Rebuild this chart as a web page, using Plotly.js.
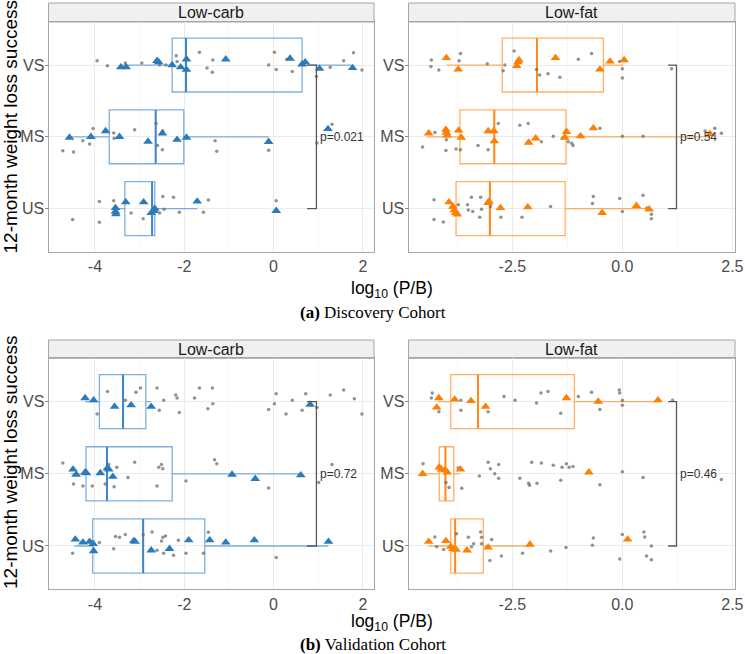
<!DOCTYPE html>
<html>
<head>
<meta charset="utf-8">
<script src="https://cdn.plot.ly/plotly-3.0.1.min.js"></script>
<style>html,body{margin:0;padding:0;background:#fff;}#chart{width:745px;height:654px;}</style>
</head>
<body>
<div id="chart"></div>
<script>
// ---------- categories / labels ----------
const catLabels = ['US', 'MS', 'VS'];
const catPos = [1, 2, 3];
const facetLabels = ['Low-carb', 'Low-fat'];
const cohortLabels = ['<b>(a)</b> Discovery Cohort', '<b>(b)</b> Validation Cohort'];
const xTitle = 'log<sub>10</sub> (P/B)';
const yTitle = '12-month weight loss success';
const carbTickVals = [-4, -2, 0, 2];
const carbTickText = ['-4', '-2', '0', '2'];
const fatTickVals = [-2.5, 0, 2.5];
const fatTickText = ['-2.5', '0.0', '2.5'];

// ---------- Discovery, Low-carb (box stats in order US, MS, VS) ----------
const dcLow = [-3.55, -4.59, -3.43];
const dcQ1 = [-3.33, -3.68, -2.27];
const dcMed = [-2.72, -2.64, -1.96];
const dcQ3 = [-2.66, -2.01, 0.64];
const dcHigh = [-1.71, -0.11, 1.75];
const dcTriVSx = [-3.42,-3.30,-2.61,-2.57,-2.27,-2.08,-1.95,-1.95,-1.07,0.37,0.64,0.71,1.03,1.77];
const dcTriVSd = [-0.03,-0.03,0.06,0.04,0,-0.03,0.08,-0.065,0.08,0.09,0.01,0.04,-0.05,-0.04];
const dcTriMSx = [-4.57,-4.09,-3.76,-3.45,-2.81,-2.49,-2.16,-1.95,-0.11,1.22];
const dcTriMSd = [-0.01,0,0.08,0,-0.065,0.05,-0.04,-0.01,-0.07,0.11];
const dcTriUSx = [-3.54,-3.54,-3.53,-3.31,-2.91,-2.74,-2.67,-2.66,-1.71,0.06];
const dcTriUSd = [0.01,-0.04,-0.075,0.09,0.09,-0.06,-0.03,0,0.10,-0.03];
const dcDotVSx = [-3.95,-3.72,-3.32,-2.95,-2.55,-2.41,-2.18,-2.16,-1.66,-1.49,-1.36,-1.37,-0.11,0.02,0.06,0.30,0.42,0.96,1.27,1.57,1.79,1.98];
const dcDotVSd = [0.06,-0.01,0.03,0.03,0,0,0.13,0.05,0.18,-0.04,0.07,-0.10,0,0.18,-0.06,0.08,-0.09,-0.16,-0.03,0.06,0.17,-0.07];
const dcDotMSx = [-4.72,-4.48,-4.27,-4.12,-4.04,-3.58,-3.57,-3.11,-2.63,-2.60,-2.49,-2.48,-1.31,-1.27,-0.11,1.31,0.97];
const dcDotMSd = [-0.195,-0.21,-0.055,-0.10,0.115,0.055,-0.02,0.10,0.185,-0.12,-0.18,0.08,-0.055,-0.20,-0.185,0.175,-0.085];
const dcDotUSx = [-4.50,-3.90,-3.90,-3.58,-3.19,-2.92,-2.92,-2.55,-2.48,-2.45,-2.24,-2.11,-1.57,-1.46,0.06];
const dcDotUSd = [-0.15,0.10,-0.19,0.11,-0.06,0.09,-0.14,-0.06,0.17,-0.01,0.16,-0.05,-0.05,0.12,0.11];
const dcBracket = [0.75, 0.96];
const dcP = 'p=0.021';

// ---------- Discovery, Low-fat ----------
const dfLow = [-3.94, -4.45, -4.00];
const dfQ1 = [-3.78, -3.69, -2.73];
const dfMed = [-3.01, -2.91, -1.94];
const dfQ3 = [-1.30, -1.28, -0.43];
const dfHigh = [0.63, 1.99, 0.02];
const dfTriVSx = [-4.00,-3.73,-2.40,-2.37,-2.35,-1.52,-0.51,-0.28,0.04];
const dfTriVSd = [0.10,-0.06,-0.01,0.04,0.07,0.10,-0.06,0.05,0.07];
const dfTriMSx = [-4.40,-4.01,-4.00,-3.98,-3.72,-3.66,-3.05,-2.92,-2.91,-2.13,-1.97,-1.31,-1.27,-0.95,-0.66,1.99];
const dfTriMSd = [0.05,0.10,0.06,0.02,0.09,-0.01,0.08,0.08,-0.06,-0.08,-0.02,-0.01,0.07,0.01,0.12,0.04];
const dfTriUSx = [-3.94,-3.85,-3.82,-3.79,-3.75,-3.05,-3.03,-2.77,-2.15,-0.46,0.32,0.61];
const dfTriUSd = [0.09,0.03,-0.02,-0.06,-0.08,0.08,0.10,0.01,0.02,-0.06,0.04,-0.01];
const dfDotVSx = [-4.34,-4.35,-4.17,-3.71,-3.68,-3.07,-2.67,-2.71,-2.46,-1.95,-1.88,-1.69,-1.42,-1.00,-0.70,-0.06,0.00,0.00,1.12];
const dfDotVSd = [0.07,-0.02,-0.07,0.06,0.16,0.02,0,-0.08,0.195,-0.06,-0.14,-0.12,-0.17,0.08,0.16,0.05,-0.05,-0.18,-0.05];
const dfDotMSx = [-4.54,-4.26,-4.01,-4.00,-3.78,-3.68,-3.28,-3.05,-2.82,-2.33,-2.14,-1.84,-1.57,-1.36,-1.23,-1.15,-1.12,-0.51,0.00,0.47,1.88,2.10,2.25];
const dfDotMSd = [-0.14,0.06,-0.19,-0.04,-0.17,-0.18,-0.12,-0.18,0.185,0.16,0.185,-0.07,0.01,-0.02,-0.07,-0.09,-0.12,0.12,0.01,0.01,0.08,0.12,0.05];
const dfDotUSx = [-4.28,-4.07,-4.28,-3.73,-3.52,-3.50,-3.43,-3.40,-3.22,-3.20,-3.24,-3.00,-2.76,-2.28,-1.63,-0.66,-0.68,-0.06,0.00,0.47,0.56,0.66,0.66];
const dfDotUSd = [0.125,-0.185,-0.15,0.055,0.055,-0.02,0.16,-0.04,0.16,-0.01,-0.12,0.03,-0.12,-0.12,0.03,0.17,0.07,0.14,-0.04,0.185,0.01,-0.08,-0.14];
const dfBracket = [1.04, 1.23];
const dfP = 'p=0.54';

// ---------- Validation, Low-carb ----------
const vcLow = [-4.46, -4.53, -4.22];
const vcQ1 = [-4.05, -4.20, -3.90];
const vcMed = [-2.92, -3.73, -3.37];
const vcQ3 = [-1.54, -2.27, -2.86];
const vcHigh = [1.23, 0.61, -2.74];
const vcTriVSx = [-4.22,-4.03,-3.56,-3.19,-2.74,0.82];
const vcTriVSd = [0.05,0.02,-0.07,-0.05,-0.07,-0.04];
const vcTriMSx = [-4.49,-4.42,-4.22,-4.19,-3.88,-3.72,-3.69,-3.60,-0.93,-0.41,0.61];
const vcTriMSd = [0.06,-0.01,0.02,0.01,0.01,0.08,0.06,-0.04,-0.01,-0.07,-0.02];
const vcTriUSx = [-4.44,-4.27,-4.12,-4.04,-4.03,-3.13,-3.10,-2.74,-2.33,-1.90,-1.43,-1.07,-0.43,1.23];
const vcTriUSd = [0.09,0.05,0.06,0.03,-0.07,0.07,0.06,-0.06,-0.04,0.08,0.08,0.05,0.08,0.06];
const vcDotVSx = [-3.95,-3.72,-3.32,-3.08,-2.98,-2.61,-2.56,-2.46,-2.19,-2.16,-2.11,-1.77,-1.66,-1.47,-1.37,-1.36,-0.11,0.02,0.06,0.28,0.42,0.64,0.72,0.97,1.27,1.57,1.81,1.98];
const vcDotVSd = [-0.17,0.14,0.02,0.13,0.19,0.19,-0.12,0.02,0.09,0.05,-0.15,0.05,0.19,-0.10,0.19,-0.03,-0.11,-0.03,0.11,-0.17,0.02,-0.12,0.11,-0.08,0.09,0.16,0.04,-0.17];
const vcDotMSx = [-4.72,-4.48,-4.27,-4.06,-3.77,-3.69,-3.57,-3.51,-3.26,-3.11,-2.61,-2.57,-2.51,-2.48,-1.96,-1.32,-1.27,-0.11,1.01,1.31];
const vcDotMSd = [0.15,-0.14,-0.17,-0.17,-0.14,0.13,-0.18,0.09,-0.05,0.16,-0.17,0.09,0.13,0.07,-0.10,0.195,0.14,-0.195,-0.12,0.13];
const vcDotUSx = [-4.50,-3.90,-3.58,-3.54,-3.45,-3.32,-2.92,-2.72,-2.61,-2.51,-2.48,-2.42,-2.46,-2.24,-2.13,-1.96,-1.57,-1.46,0.06];
const vcDotUSd = [-0.10,0.05,-0.04,0.13,0.12,0.16,0.16,0.195,-0.06,0.07,0.12,0.14,-0.10,-0.13,0.08,-0.10,-0.10,0.19,-0.16];
const vcBracket = [0.75, 0.96];
const vcP = 'p=0.72';

// ---------- Validation, Low-fat ----------
const vfLow = [-4.40, -4.54, -4.19];
const vfQ1 = [-3.90, -4.16, -3.90];
const vfMed = [-3.80, -4.02, -3.28];
const vfQ3 = [-3.16, -3.83, -1.09];
const vfHigh = [-2.10, -3.68, 0.81];
const vfTriVSx = [-4.22,-4.17,-3.81,-3.44,-3.11,-1.27,-0.55,0.81];
const vfTriVSd = [-0.08,0.05,0.03,0.01,-0.07,0.05,0,0.02];
const vfTriMSx = [-4.54,-4.16,-4.11,-4.03,-3.98,-3.68,-0.76];
const vfTriMSd = [0,0.09,0.06,0.05,0.02,0.06,0.02];
const vfTriUSx = [-4.40,-4.01,-3.90,-3.85,-3.78,-3.53,-3.05,-2.10,0.12];
const vfTriUSd = [0.06,0.07,-0.01,-0.04,-0.05,-0.06,-0.02,0.02,0.09];
const vfDotVSx = [-4.32,-4.34,-4.17,-3.67,-3.67,-3.05,-2.69,-2.44,-1.95,-1.85,-1.69,-1.40,-1.00,-0.70,-0.51,-0.07,-0.06,0.00,0.00,1.14];
const vfDotVSd = [0.12,0.05,-0.14,0.02,-0.12,-0.14,0.07,0.02,-0.02,0.12,0.14,-0.16,0.07,0.13,-0.11,0.16,0.12,0.02,-0.05,0.02];
const vfDotMSx = [-4.53,-4.01,-3.94,-3.73,-3.65,-3.25,-3.05,-3.00,-2.90,-2.81,-2.81,-2.33,-2.13,-2.11,-2.06,-1.94,-1.84,-1.57,-1.40,-1.37,-1.27,-1.21,-1.12,-0.51,0.00,0.47,2.25];
const vfDotMSd = [0.14,-0.12,-0.19,0.08,-0.20,-0.03,0.16,0.07,0,0.13,-0.06,-0.06,-0.13,-0.16,0.16,-0.13,0.15,0.12,-0.09,0.09,0.14,0.09,0.10,-0.15,0.03,-0.05,-0.08];
const vfDotUSx = [-4.26,-4.22,-4.06,-3.77,-3.50,-3.43,-3.38,-3.22,-3.20,-3.20,-3.01,-2.97,-2.75,-2.27,-1.63,-1.28,-0.66,-0.68,0.00,-0.06,0.49,0.51,0.55,0.66,0.66];
const vfDotUSd = [0.125,-0.01,-0.05,0.17,0.12,-0.01,0.03,0.195,0.12,0.03,-0.20,0.09,-0.14,-0.10,-0.07,-0.02,0.11,0.01,0.16,-0.18,0.195,0.125,-0.14,0,-0.19];
const vfBracket = [1.04, 1.23];
const vfP = 'p=0.46';

// ---------- styling ----------
const BLUE = '#2b7bba', BLUE_BOX = 'rgba(80,150,215,0.75)', BLUE_MED = '#3d86c6';
const ORANGE = '#ff7f00', ORANGE_BOX = 'rgba(255,150,50,0.75)', ORANGE_MED = '#ff8a1a';
const DOT = 'rgba(110,110,110,0.75)';
const FONT = 'Liberation Sans, Arial, Helvetica, sans-serif';

const traces = [];
const annotations = [];

function addPanel(xa, ya, low, q1, med, q3, high, tri, dots, br, pText, triColor, boxColor, medColor) {
  traces.push({
    type: 'box', orientation: 'h', xaxis: xa, yaxis: ya,
    y: catPos, q1: q1, median: med, q3: q3, lowerfence: low, upperfence: high,
    width: 0.75, whiskerwidth: 0, boxpoints: false,
    fillcolor: 'rgba(0,0,0,0)', line: { color: boxColor, width: 1.3 },
    hoverinfo: 'skip', showlegend: false
  });
  // thicker median line (ggplot fatten)
  const mx = [], my = [];
  med.forEach((m, i) => { mx.push(m, m, null); my.push(catPos[i] - 0.375, catPos[i] + 0.375, null); });
  traces.push({ type: 'scatter', mode: 'lines', xaxis: xa, yaxis: ya, x: mx, y: my,
    line: { color: medColor, width: 2 }, hoverinfo: 'skip', showlegend: false });
  // grey jittered dots
  const dx = [], dy = [];
  dots.forEach((pair, i) => { pair[0].forEach((v, k) => { dx.push(v); dy.push(catPos[i] + pair[1][k]); }); });
  traces.push({ type: 'scatter', mode: 'markers', xaxis: xa, yaxis: ya, x: dx, y: dy,
    marker: { color: DOT, size: 3.5 }, hoverinfo: 'skip', showlegend: false });
  // triangles
  const tx = [], ty = [];
  tri.forEach((pair, i) => { pair[0].forEach((v, k) => { tx.push(v); ty.push(catPos[i] + pair[1][k]); }); });
  traces.push({ type: 'scatter', mode: 'markers', xaxis: xa, yaxis: ya, x: tx, y: ty,
    marker: { color: triColor, size: 8.5, symbol: 'triangle-up' }, hoverinfo: 'skip', showlegend: false });
  // significance bracket
  traces.push({ type: 'scatter', mode: 'lines', xaxis: xa, yaxis: ya,
    x: [br[0], br[1], br[1], br[0]], y: [catPos[2], catPos[2], catPos[0], catPos[0]],
    line: { color: '#595959', width: 1.3 }, hoverinfo: 'skip', showlegend: false });
  annotations.push({ xref: xa, yref: ya, x: br[1], y: catPos[1], text: pText, showarrow: false,
    xanchor: 'left', yanchor: 'middle', xshift: 2, font: { family: FONT, size: 12, color: '#333' } });
}

addPanel('x', 'y', dcLow, dcQ1, dcMed, dcQ3, dcHigh,
  [[dcTriUSx, dcTriUSd], [dcTriMSx, dcTriMSd], [dcTriVSx, dcTriVSd]],
  [[dcDotUSx, dcDotUSd], [dcDotMSx, dcDotMSd], [dcDotVSx, dcDotVSd]],
  dcBracket, dcP, BLUE, BLUE_BOX, BLUE_MED);
addPanel('x2', 'y2', dfLow, dfQ1, dfMed, dfQ3, dfHigh,
  [[dfTriUSx, dfTriUSd], [dfTriMSx, dfTriMSd], [dfTriVSx, dfTriVSd]],
  [[dfDotUSx, dfDotUSd], [dfDotMSx, dfDotMSd], [dfDotVSx, dfDotVSd]],
  dfBracket, dfP, ORANGE, ORANGE_BOX, ORANGE_MED);
addPanel('x3', 'y3', vcLow, vcQ1, vcMed, vcQ3, vcHigh,
  [[vcTriUSx, vcTriUSd], [vcTriMSx, vcTriMSd], [vcTriVSx, vcTriVSd]],
  [[vcDotUSx, vcDotUSd], [vcDotMSx, vcDotMSd], [vcDotVSx, vcDotVSd]],
  vcBracket, vcP, BLUE, BLUE_BOX, BLUE_MED);
addPanel('x4', 'y4', vfLow, vfQ1, vfMed, vfQ3, vfHigh,
  [[vfTriUSx, vfTriUSd], [vfTriMSx, vfTriMSd], [vfTriVSx, vfTriVSd]],
  [[vfDotUSx, vfDotUSd], [vfDotMSx, vfDotMSd], [vfDotVSx, vfDotVSd]],
  vfBracket, vfP, ORANGE, ORANGE_BOX, ORANGE_MED);

// ---------- geometry (pixels -> paper) ----------
const W = 745, H = 654;
const px = v => v / W, py = v => 1 - v / H;
const leftDom = [px(48.5), px(374)];
const rightDom = [px(408.5), px(735)];
const topDom = [py(251.7), py(22)];
const botDom = [py(589.3), py(358.3)];

const tickFont = { family: FONT, size: 16, color: '#4d4d4d' };
function xAxis(dom, anchor, range, tv, tt, minorVals) {
  return {
    domain: dom, anchor: anchor, range: range, tickmode: 'array', tickvals: tv, ticktext: tt,
    showgrid: true, gridcolor: '#ebebeb', gridwidth: 1, zeroline: false,
    showline: true, mirror: true, linecolor: '#a6a6a6', linewidth: 1,
    ticks: '', ticklen: 0, tickfont: tickFont,
    minor: { tickmode: 'array', tickvals: minorVals, showgrid: true, gridcolor: '#f4f4f4', gridwidth: 0.6, ticks: '' },
    fixedrange: true
  };
}
function yAxis(dom, anchor) {
  return {
    domain: dom, anchor: anchor, range: [0.4, 3.6], tickmode: 'array', tickvals: catPos, ticktext: catLabels,
    showgrid: true, gridcolor: '#ebebeb', gridwidth: 1, zeroline: false,
    showline: true, mirror: true, linecolor: '#a6a6a6', linewidth: 1,
    ticks: '', ticklen: 0, tickfont: tickFont,
    minor: { tickmode: 'array', tickvals: catPos, ticks: 'outside', ticklen: 3, tickcolor: '#8c8c8c', showgrid: false },
    fixedrange: true
  };
}
const carbRange = [-5.04, 2.25], fatRange = [-4.86, 2.56];
const carbMinor = [-3, -1, 1], fatMinor = [-3.75, -1.25, 1.25];

// strips
const shapes = [];
function strip(dom, y0, y1, label) {
  shapes.push({ type: 'rect', xref: 'paper', yref: 'paper', x0: dom[0], x1: dom[1], y0: py(y1), y1: py(y0),
    fillcolor: '#f0f0f0', line: { color: '#a6a6a6', width: 1 }, layer: 'below' });
  annotations.push({ xref: 'paper', yref: 'paper', x: (dom[0] + dom[1]) / 2, y: py((y0 + y1) / 2),
    text: label, showarrow: false, xanchor: 'center', yanchor: 'middle',
    font: { family: FONT, size: 16, color: '#1a1a1a' } });
}
strip(leftDom, 3, 22, facetLabels[0]);
strip(rightDom, 3, 22, facetLabels[1]);
strip(leftDom, 340, 358.3, facetLabels[0]);
strip(rightDom, 340, 358.3, facetLabels[1]);

// axis titles and captions
const titleFont = { family: FONT, size: 19, color: '#000' };
[[127.5], [463]].forEach(v => annotations.push({ xref: 'paper', yref: 'paper', x: px(10), y: py(v[0]),
  text: yTitle, textangle: -90, showarrow: false, xanchor: 'center', yanchor: 'middle', font: titleFont }));
[290, 622.5].forEach(v => annotations.push({ xref: 'paper', yref: 'paper', x: px(391.5), y: py(v),
  text: xTitle, showarrow: false, xanchor: 'center', yanchor: 'middle', font: { family: FONT, size: 17.5, color: '#000' } }));
[[312, cohortLabels[0]], [644.5, cohortLabels[1]]].forEach(v => annotations.push({ xref: 'paper', yref: 'paper',
  x: px(372.5), y: py(v[0]), text: v[1], showarrow: false, xanchor: 'center', yanchor: 'middle',
  font: { family: 'Liberation Serif, Times New Roman, serif', size: 17, color: '#000' } }));

const layout = {
  width: W, height: H, margin: { l: 0, r: 0, t: 0, b: 0 },
  paper_bgcolor: '#fff', plot_bgcolor: '#fff', showlegend: false, boxmode: 'overlay',
  font: { family: FONT },
  xaxis: xAxis(leftDom, 'y', carbRange, carbTickVals, carbTickText, carbMinor),
  yaxis: yAxis(topDom, 'x'),
  xaxis2: xAxis(rightDom, 'y2', fatRange, fatTickVals, fatTickText, fatMinor),
  yaxis2: yAxis(topDom, 'x2'),
  xaxis3: xAxis(leftDom, 'y3', carbRange, carbTickVals, carbTickText, carbMinor),
  yaxis3: yAxis(botDom, 'x3'),
  xaxis4: xAxis(rightDom, 'y4', fatRange, fatTickVals, fatTickText, fatMinor),
  yaxis4: yAxis(botDom, 'x4'),
  shapes: shapes, annotations: annotations
};

Plotly.newPlot('chart', traces, layout, { staticPlot: true, displayModeBar: false });
</script>
</body>
</html>
